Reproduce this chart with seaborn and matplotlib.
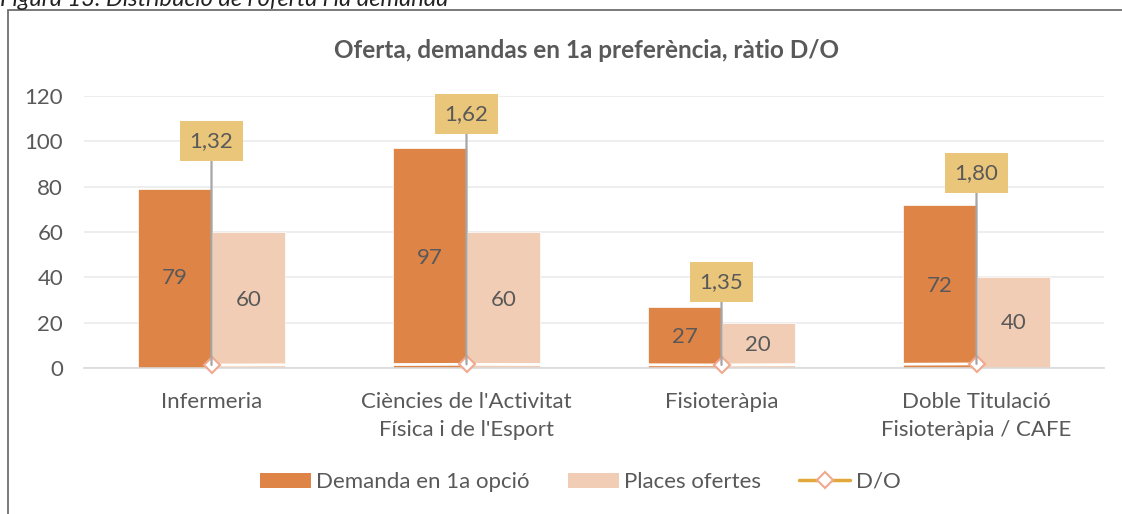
import matplotlib
matplotlib.use('Agg')
import matplotlib.pyplot as plt
import seaborn as sns
import pandas as pd
from matplotlib.patches import Patch, Rectangle
from matplotlib.lines import Line2D

# data
categories = ['Infermeria', "Ciències de l'Activitat\nFísica i de l'Esport",
              'Fisioteràpia', 'Doble Titulació\nFisioteràpia / CAFE']
demanda = [79, 97, 27, 72]
places = [60, 60, 20, 40]
ratio = [1.32, 1.62, 1.35, 1.80]
ratio_labels = ['1,32', '1,62', '1,35', '1,80']
series = ['Demanda en 1a opció', 'Places ofertes']

# callout box heights (layout only)
label_y = [100, 112, 38, 86]

ORANGE = '#DE8447'
PEACH = '#F2CDB5'
GOLD = '#E3A83C'
TXT = '#595959'
FS = 16

df = pd.DataFrame({
    'cat': categories * 2,
    'val': demanda + places,
    'serie': [series[0]] * 4 + [series[1]] * 4,
})

sns.set_theme(style='white')
plt.rcParams['font.family'] = ['Lato', 'DejaVu Sans']

W, H = 1122, 514
fig = plt.figure(figsize=(W / 100, H / 100), dpi=100)
ax = fig.add_axes([84 / W, (H - 368) / H, 1020 / W, 272 / H])

sns.barplot(data=df, x='cat', y='val', hue='serie', order=categories,
            hue_order=series, palette=[ORANGE, PEACH], saturation=1,
            width=0.578, gap=0, edgecolor='white', linewidth=0.5,
            legend=False, ax=ax, zorder=2)

for cont in ax.containers:
    ax.bar_label(cont, fmt='%d', label_type='center', color=TXT, fontsize=FS)

# D/O series drawn on the same scale (sits near zero)
xs = list(range(len(categories)))
ax.plot(xs, ratio, color='white', lw=2, zorder=3)
ax.plot(xs, ratio, ls='none', marker='D', ms=8, mfc='white', mec='#F0A88E',
        mew=1.5, zorder=4, clip_on=False)

for i, (r, lab) in enumerate(zip(ratio, ratio_labels)):
    ax.annotate(lab, xy=(i, r), xytext=(i, label_y[i]), ha='center', va='center',
                color=TXT, fontsize=FS, zorder=5,
                bbox=dict(boxstyle='square,pad=0.45', fc='#EAC67A', ec='none'),
                arrowprops=dict(arrowstyle='-', color='#A6A6A6', lw=1.6,
                                shrinkA=0, shrinkB=0))

ax.set_ylim(0, 120)
ax.set_xlim(-0.5, 3.5)
ax.set_yticks(range(0, 121, 20))
ax.yaxis.grid(True, color='#EBEBEB', lw=1.2)
ax.set_axisbelow(True)
for s in ['top', 'right', 'left']:
    ax.spines[s].set_visible(False)
ax.spines['bottom'].set_color('#D9D9D9')
ax.spines['bottom'].set_linewidth(1.2)
ax.tick_params(axis='y', length=0, pad=15, labelsize=FS, labelcolor=TXT)
ax.tick_params(axis='x', length=0, pad=17, labelsize=FS, labelcolor=TXT)
for t in ax.get_xticklabels():
    t.set_linespacing(1.5)
    t.set_va('top')
ax.set_xlabel('')
ax.set_ylabel('')

fig.text(587 / W, 1 - 50 / H, 'Oferta, demandas en 1a preferència, ràtio D/O',
         ha='center', va='center', fontsize=17.5, fontweight='bold', color=TXT)

# caption cut at the top of the picture
fig.text(0, 1 - 6 / H, "Figura 13. Distribució de l'oferta i la demanda",
         ha='left', va='baseline', fontsize=17, style='italic', color='#222222')

# chart frame
fig.add_artist(Rectangle((8 / W, -0.1), 1.2, 1 - 10 / H + 0.1,
                         transform=fig.transFigure, fill=False,
                         ec='#6E6E6E', lw=1.3))

handles = [Patch(fc=ORANGE, ec='none'), Patch(fc=PEACH, ec='none'),
           Line2D([], [], color=GOLD, lw=2.5, marker='D', ms=8, mfc='white',
                  mec='#F0A88E', mew=1.5)]
fig.legend(handles, series + ['D/O'], loc='center', bbox_to_anchor=(580 / W, 1 - 482 / H),
           ncol=3, frameon=False, fontsize=FS, labelcolor=TXT,
           handlelength=2.3, handleheight=0.68, handletextpad=0.25, columnspacing=1.7)

fig.savefig('out.png', dpi=100)
